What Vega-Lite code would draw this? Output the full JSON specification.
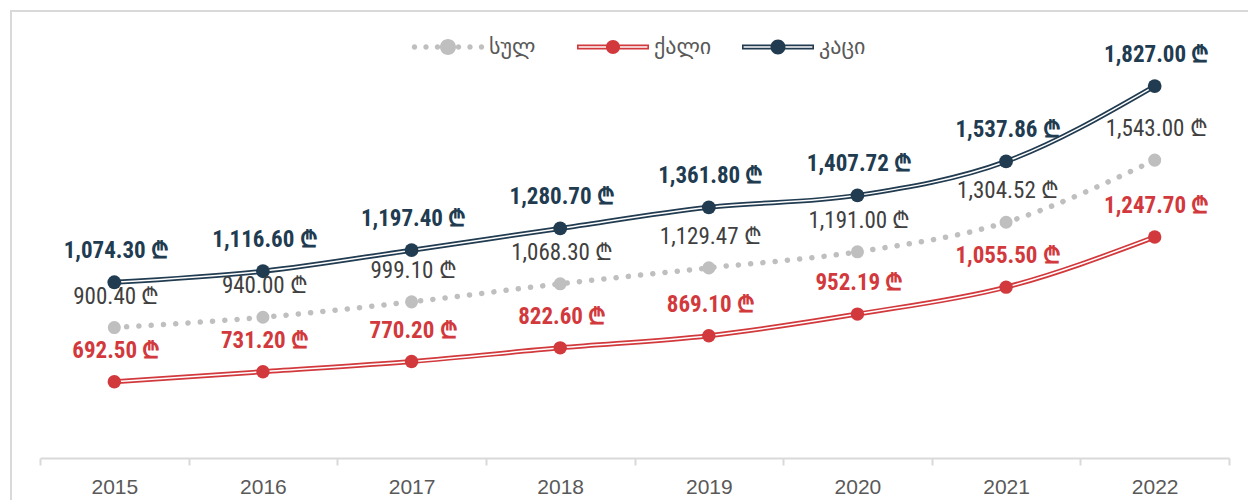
{
  "$schema": "https://vega.github.io/schema/vega-lite/v6.json",
  "autosize": {"type": "none"},
  "padding": {"left": 11, "top": 11, "right": -4, "bottom": -4},
  "width": 1241,
  "height": 493,
  "background": "white",
  "config": {
    "view": {"stroke": "#D9D9D9", "strokeWidth": 2}
  },
  "data": {
    "values": [
      {"year": "2015", "series": "სულ", "value": 900.40},
      {"year": "2016", "series": "სულ", "value": 940.00},
      {"year": "2017", "series": "სულ", "value": 999.10},
      {"year": "2018", "series": "სულ", "value": 1068.30},
      {"year": "2019", "series": "სულ", "value": 1129.47},
      {"year": "2020", "series": "სულ", "value": 1191.00},
      {"year": "2021", "series": "სულ", "value": 1304.52},
      {"year": "2022", "series": "სულ", "value": 1543.00},
      {"year": "2015", "series": "ქალი", "value": 692.50},
      {"year": "2016", "series": "ქალი", "value": 731.20},
      {"year": "2017", "series": "ქალი", "value": 770.20},
      {"year": "2018", "series": "ქალი", "value": 822.60},
      {"year": "2019", "series": "ქალი", "value": 869.10},
      {"year": "2020", "series": "ქალი", "value": 952.19},
      {"year": "2021", "series": "ქალი", "value": 1055.50},
      {"year": "2022", "series": "ქალი", "value": 1247.70},
      {"year": "2015", "series": "კაცი", "value": 1074.30},
      {"year": "2016", "series": "კაცი", "value": 1116.60},
      {"year": "2017", "series": "კაცი", "value": 1197.40},
      {"year": "2018", "series": "კაცი", "value": 1280.70},
      {"year": "2019", "series": "კაცი", "value": 1361.80},
      {"year": "2020", "series": "კაცი", "value": 1407.72},
      {"year": "2021", "series": "კაცი", "value": 1537.86},
      {"year": "2022", "series": "კაცი", "value": 1827.00}
    ]
  },
  "transform": [
    {"calculate": "format(datum.value, ',.2f') + ' ₾'", "as": "label"}
  ],
  "encoding": {
    "x": {
      "field": "year",
      "type": "ordinal",
      "scale": {"type": "band", "paddingInner": 0, "paddingOuter": 0, "range": [29, 1218]},
      "axis": {
        "title": null,
        "orient": "bottom",
        "offset": -46,
        "labelAngle": 0,
        "tickBand": "extent",
        "tickSize": 7,
        "tickWidth": 2,
        "tickColor": "#D9D9D9",
        "domainColor": "#D9D9D9",
        "domainWidth": 2,
        "grid": false,
        "labelFont": "Liberation Sans",
        "labelFontSize": 21,
        "labelColor": "#595959",
        "labelPadding": 11
      }
    },
    "y": {
      "field": "value",
      "type": "quantitative",
      "scale": {"domain": [400, 2000], "range": [447, 30], "nice": false, "zero": false},
      "axis": null
    }
  },
  "layer": [
    {
      "transform": [{"filter": "datum.series === 'სულ'"}],
      "mark": {"type": "line", "interpolate": "monotone", "color": "#BFBFBF", "strokeWidth": 5.5, "strokeCap": "round", "strokeDash": [0.1, 12.2]}
    },
    {
      "transform": [{"filter": "datum.series !== 'სულ'"}],
      "mark": {"type": "line", "interpolate": "monotone", "strokeWidth": 5},
      "encoding": {
        "stroke": {
          "field": "series", "type": "nominal",
          "scale": {"domain": ["კაცი", "ქალი", "სულ"], "range": ["#213B50", "#D2393C", "#BFBFBF"]},
          "legend": null
        }
      }
    },
    {
      "transform": [{"filter": "datum.series !== 'სულ'"}],
      "mark": {"type": "line", "interpolate": "monotone", "strokeWidth": 1.5, "color": "white"},
      "encoding": {"detail": {"field": "series", "type": "nominal"}}
    },
    {
      "mark": {"type": "point", "filled": true, "strokeWidth": 0, "opacity": 1},
      "encoding": {
        "fill": {
          "field": "series", "type": "nominal",
          "scale": {"domain": ["კაცი", "ქალი", "სულ"], "range": ["#213B50", "#D2393C", "#BFBFBF"]},
          "legend": null
        },
        "size": {
          "field": "series", "type": "nominal",
          "scale": {"domain": ["კაცი", "ქალი", "სულ"], "range": [190, 170, 210]},
          "legend": null
        }
      }
    },
    {
      "mark": {"type": "point", "filled": true, "opacity": 1, "size": 0},
      "encoding": {
        "color": {
          "field": "series", "type": "nominal",
          "scale": {"domain": ["სულ", "ქალი", "კაცი"], "range": ["#BFBFBF", "#D2393C", "#213B50"]},
          "legend": {
            "title": null,
            "orient": "none",
            "legendX": 426,
            "legendY": 25,
            "direction": "horizontal",
            "symbolSize": 400,
            "symbolStrokeWidth": 0,
            "symbolOpacity": 1,
            "labelFont": "DejaVu Sans",
            "labelFontSize": 22,
            "labelColor": "#595959",
            "labelOffset": 30,
            "columnPadding": 30,
            "gridAlign": "all"
          }
        },
        "shape": {
          "field": "series", "type": "nominal",
          "scale": {
            "domain": ["სულ", "ქალი", "კაცი"],
            "range": [
              "M-3.62,0C-3.62,-0.149 -3.499,-0.27 -3.35,-0.27C-3.201,-0.27 -3.08,-0.149 -3.08,0C-3.08,0.149 -3.201,0.27 -3.35,0.27C-3.499,0.27 -3.62,0.149 -3.62,0ZM-2.47,0C-2.47,-0.149 -2.349,-0.27 -2.2,-0.27C-2.051,-0.27 -1.93,-0.149 -1.93,0C-1.93,0.149 -2.051,0.27 -2.2,0.27C-2.349,0.27 -2.47,0.149 -2.47,0ZM-1.32,0C-1.32,-0.149 -1.199,-0.27 -1.05,-0.27C-0.901,-0.27 -0.78,-0.149 -0.78,0C-0.78,0.149 -0.901,0.27 -1.05,0.27C-1.199,0.27 -1.32,0.149 -1.32,0ZM0.78,0C0.78,-0.149 0.901,-0.27 1.05,-0.27C1.199,-0.27 1.32,-0.149 1.32,0C1.32,0.149 1.199,0.27 1.05,0.27C0.901,0.27 0.78,0.149 0.78,0ZM1.93,0C1.93,-0.149 2.051,-0.27 2.2,-0.27C2.349,-0.27 2.47,-0.149 2.47,0C2.47,0.149 2.349,0.27 2.2,0.27C2.051,0.27 1.93,0.149 1.93,0ZM3.08,0C3.08,-0.149 3.201,-0.27 3.35,-0.27C3.499,-0.27 3.62,-0.149 3.62,0C3.62,0.149 3.499,0.27 3.35,0.27C3.201,0.27 3.08,0.149 3.08,0ZM-0.8,0C-0.8,-0.442 -0.442,-0.8 0,-0.8C0.442,-0.8 0.8,-0.442 0.8,0C0.8,0.442 0.442,0.8 0,0.8C-0.442,0.8 -0.8,0.442 -0.8,0Z",
              "M-3.6,-0.24H3.6V0.24H-3.6ZM-3.44,-0.08V0.08H3.44V-0.08ZM-0.7,0C-0.7,-0.387 -0.387,-0.7 0,-0.7C0.387,-0.7 0.7,-0.387 0.7,0C0.7,0.387 0.387,0.7 0,0.7C-0.387,0.7 -0.7,0.387 -0.7,0Z",
              "M-3.6,-0.24H3.6V0.24H-3.6ZM-3.44,-0.08V0.08H3.44V-0.08ZM-0.75,0C-0.75,-0.414 -0.414,-0.75 0,-0.75C0.414,-0.75 0.75,-0.414 0.75,0C0.75,0.414 0.414,0.75 0,0.75C-0.414,0.75 -0.75,0.414 -0.75,0Z"
            ]
          },
          "legend": {"title": null}
        }
      }
    },
    {
      "transform": [{"filter": "datum.series !== 'სულ'"}],
      "mark": {"type": "text", "font": "Liberation Sans Narrow, Arial Narrow, Roboto Condensed, Roboto", "fontSize": 23, "fontWeight": "bold", "baseline": "middle", "align": "center", "dy": -31, "dx": 2},
      "encoding": {
        "text": {"field": "label"},
        "fill": {"field": "series", "type": "nominal", "legend": null}
      }
    },
    {
      "transform": [{"filter": "datum.series === 'სულ'"}],
      "mark": {"type": "text", "font": "Liberation Sans Narrow, Arial Narrow, Roboto Condensed, Roboto", "fontSize": 23, "baseline": "middle", "align": "center", "dy": -31, "dx": 2, "color": "#404040"},
      "encoding": {"text": {"field": "label"}}
    }
  ]
}
